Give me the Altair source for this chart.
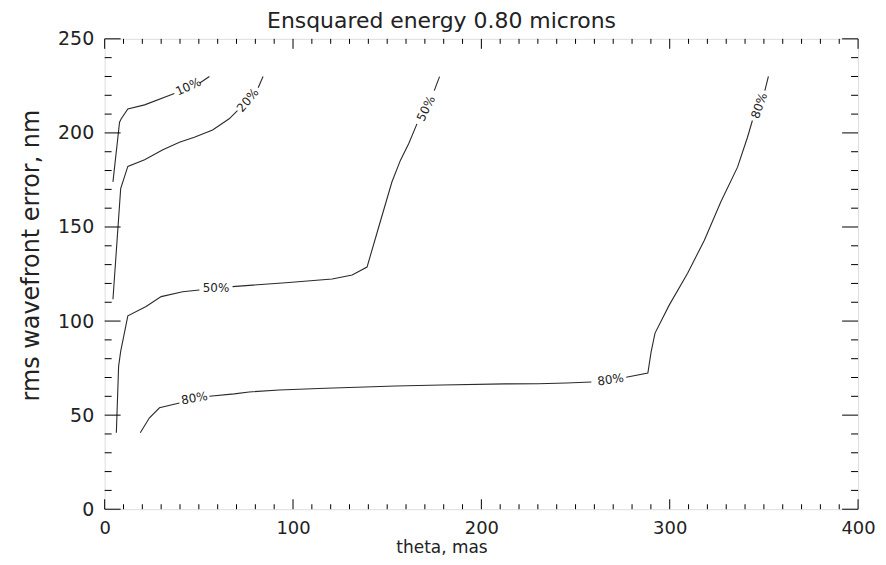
import altair as alt
import pandas as pd

# ---- contour lines (theta [mas], rms wavefront error [nm]); piece = segment between labels
c10_x = [4.4, 7.9, 8.8, 12.3, 21.2, 37.0, 50.5, 55.6]
c10_y = [174.0, 205.7, 207.5, 212.7, 214.9, 221.0, 226.5, 230.0]
c10_piece = [0, 0, 0, 0, 0, 0, 1, 1]

c20_x = [4.4, 8.5, 12.3, 21.2, 30.9, 39.7, 47.6, 57.3, 66.1, 70.5, 81.5, 84.1]
c20_y = [111.6, 170.4, 182.2, 185.8, 191.0, 195.0, 197.7, 201.6, 207.5, 211.9, 224.0, 230.0]
c20_piece = [0, 0, 0, 0, 0, 0, 0, 0, 0, 0, 1, 1]

c50_x = [6.2, 7.4, 8.5, 12.3, 22.0, 30.0, 41.4, 50.3,
         67.9, 96.1, 120.8, 131.4, 139.3, 145.5, 152.5, 157.0, 161.4, 165.8,
         175.0, 177.8]
c50_y = [40.6, 75.9, 83.9, 102.8, 107.7, 113.0, 115.6, 116.5,
         118.3, 120.4, 122.4, 124.5, 128.7, 150.0, 173.9, 185.4, 194.2, 204.8,
         222.5, 229.9]
c50_piece = [0, 0, 0, 0, 0, 0, 0, 0,
             1, 1, 1, 1, 1, 1, 1, 1, 1, 1,
             2, 2]

c80_x = [18.9, 23.8, 29.1, 39.7,
         55.6, 68.8, 76.7, 92.6, 117.3, 134.0, 154.3, 179.0, 212.5, 230.2, 245.1, 258.4,
         276.9, 288.4, 290.1, 292.2, 299.8, 309.5, 318.4, 327.1, 336.0, 341.3, 343.9,
         350.5, 352.4]
c80_y = [40.6, 48.6, 53.9, 56.5,
         60.0, 61.3, 62.3, 63.4, 64.3, 64.8, 65.5, 66.0, 66.6, 66.7, 67.1, 67.6,
         70.1, 72.4, 83.5, 93.6, 108.6, 125.4, 143.0, 163.3, 181.8, 197.7, 206.6,
         222.5, 230.0]
c80_piece = [0, 0, 0, 0,
             1, 1, 1, 1, 1, 1, 1, 1, 1, 1, 1, 1,
             2, 2, 2, 2, 2, 2, 2, 2, 2, 2, 2,
             3, 3]

# ---- contour labels
lab_text = ["10%", "20%", "50%", "50%", "80%", "80%", "80%"]
lab_x = [44.4, 76.0, 59.1, 170.6, 47.6, 268.6, 347.5]
lab_y = [224.6, 217.4, 117.7, 213.0, 59.0, 68.9, 214.5]
lab_angle = [335, 310, 0, 296, 350, 352, 290]

# ---- axis ticks
x_major = [0, 100, 200, 300, 400]
y_major = [0, 50, 100, 150, 200, 250]
x_minor = [v for v in range(0, 401, 10) if v % 100 != 0]
y_minor = [v for v in range(0, 251, 10) if v % 50 != 0]

FONT = "DejaVu Sans"
TXT = "#222222"
LINE = "#2a2a2a"

rows = []
for name, xs, ys, ps in [("10%", c10_x, c10_y, c10_piece),
                         ("20%", c20_x, c20_y, c20_piece),
                         ("50%", c50_x, c50_y, c50_piece),
                         ("80%", c80_x, c80_y, c80_piece)]:
    for i, (x, y, p) in enumerate(zip(xs, ys, ps)):
        rows.append({"theta": x, "rms": y, "key": f"{name}-{p}", "i": i})
lines_df = pd.DataFrame(rows)
labels_df = pd.DataFrame({"theta": lab_x, "rms": lab_y, "t": lab_text, "ang": lab_angle})

xscale = alt.Scale(domain=[0, 400], nice=False, zero=False)
yscale = alt.Scale(domain=[0, 250], nice=False, zero=False)

xaxis = alt.Axis(values=x_major, ticks=False, tickSize=0, domain=False, grid=False,
                 labelFontSize=18, labelFont=FONT, labelColor=TXT, labelPadding=10,
                 title="theta, mas", titleFontSize=17, titleFont=FONT,
                 titleFontWeight="normal", titleColor=TXT,
                 titleX=338, titleY=38, titleBaseline="middle", titleAlign="center",
                 labelFlush=False)
yaxis = alt.Axis(values=y_major, ticks=False, tickSize=0, domain=False, grid=False,
                 labelFontSize=19, labelFont=FONT, labelColor=TXT, labelPadding=11,
                 title="rms wavefront error, nm", titleFontSize=24, titleFont=FONT,
                 titleFontWeight="normal", titleColor=TXT,
                 titleX=-66, titleY=217, titleBaseline="alphabetic", titleAlign="center",
                 labelFlush=False)

lines = alt.Chart(lines_df).mark_line(color=LINE, strokeWidth=1.1).encode(
    x=alt.X("theta:Q", scale=xscale, axis=xaxis),
    y=alt.Y("rms:Q", scale=yscale, axis=yaxis),
    detail="key:N",
    order="i:Q",
)

labels = alt.Chart(labels_df).mark_text(font=FONT, fontSize=12, color=TXT,
                                        align="center", baseline="middle").encode(
    x=alt.X("theta:Q", scale=xscale, axis=xaxis),
    y=alt.Y("rms:Q", scale=yscale, axis=yaxis),
    text="t:N",
    angle=alt.Angle("ang:Q", scale=None),
)


def xticks(values, length):
    df = pd.DataFrame({"v": values})
    bottom = alt.Chart(df).mark_rule(color="black", strokeWidth=1, y2Offset=-length).encode(
        x=alt.X("v:Q", scale=xscale, axis=xaxis),
        y=alt.YDatum(0, scale=yscale, axis=yaxis), y2=alt.Y2Datum(0))
    top = alt.Chart(df).mark_rule(color="black", strokeWidth=1, y2Offset=length).encode(
        x=alt.X("v:Q", scale=xscale, axis=xaxis),
        y=alt.YDatum(250, scale=yscale, axis=yaxis), y2=alt.Y2Datum(250))
    return [bottom, top]


def yticks(values, length):
    df = pd.DataFrame({"v": values})
    left = alt.Chart(df).mark_rule(color="black", strokeWidth=1, x2Offset=length).encode(
        y=alt.Y("v:Q", scale=yscale, axis=yaxis),
        x=alt.XDatum(0, scale=xscale, axis=xaxis), x2=alt.X2Datum(0))
    right = alt.Chart(df).mark_rule(color="black", strokeWidth=1, x2Offset=-length).encode(
        y=alt.Y("v:Q", scale=yscale, axis=yaxis),
        x=alt.XDatum(400, scale=xscale, axis=xaxis), x2=alt.X2Datum(400))
    return [left, right]


layers = [lines, labels]
layers += xticks(x_major, 10) + xticks(x_minor, 5)
layers += yticks(y_major, 16) + yticks(y_minor, 7)

chart = alt.layer(*layers).properties(
    width=756,
    height=472,
    autosize=alt.AutoSizeParams(type="none"),
    padding={"left": 97, "top": 30, "right": 20, "bottom": 47},
    title=alt.TitleParams(text="Ensquared energy 0.80 microns", font=FONT, fontSize=22,
                          fontWeight="normal", color=TXT, anchor="middle", frame="group",
                          dx=-40, dy=10, offset=7),
).configure_view(stroke="black", strokeWidth=1).configure(background="white")

chart.save("out.html", embed_options={"renderer": "svg", "actions": False})
